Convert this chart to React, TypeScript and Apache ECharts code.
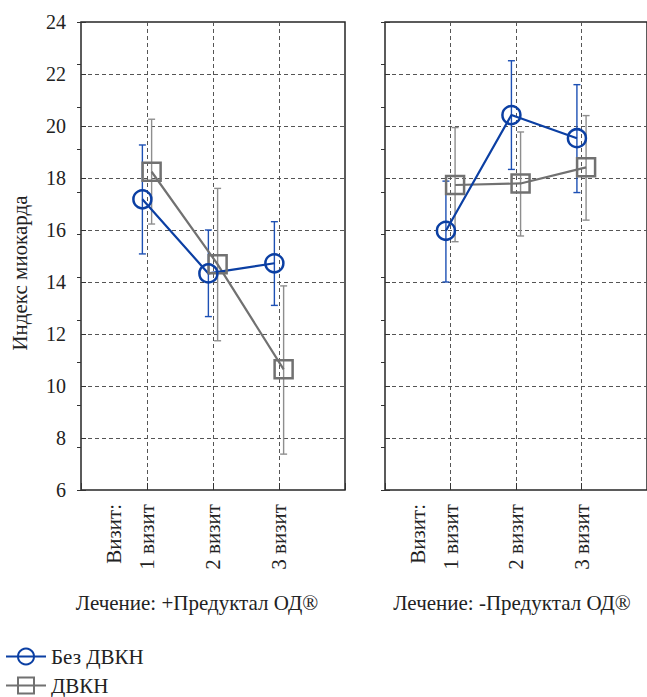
import React, { useEffect, useRef } from "react";
import * as echarts from "echarts";

const visitLabels = ["1 визит", "2 визит", "3 визит"];
const visitLead = "Визит:";
const seriesNames = ["Без ДВКН", "ДВКН"];
const panelTitles = ["Лечение: +Предуктал ОД®", "Лечение: -Предуктал ОД®"];
const yTitle = "Индекс миокарда";
const yMin = 6;
const yMax = 24;
const yStep = 2;

// Left panel: +Предуктал ОД
const leftBlueMean = [17.18, 14.33, 14.72];
const leftBlueLow = [15.08, 12.67, 13.1];
const leftBlueHigh = [19.27, 16.0, 16.32];
const leftGrayMean = [18.24, 14.68, 10.64];
const leftGrayLow = [16.23, 11.74, 7.38];
const leftGrayHigh = [20.26, 17.6, 13.85];

// Right panel: -Предуктал ОД
const rightBlueMean = [15.97, 20.42, 19.53];
const rightBlueLow = [14.0, 18.33, 17.44];
const rightBlueHigh = [17.88, 22.51, 21.59];
const rightGrayMean = [17.73, 17.79, 18.41];
const rightGrayLow = [15.55, 15.77, 16.38];
const rightGrayHigh = [19.94, 19.77, 20.4];

const BLUE = "#0b3fa3";
const BLUE_ERR = "#1d50b4";
const GRAY = "#717171";
const GRAY_ERR = "#8e8e8e";
const FONT = "Liberation Serif";
const TEXT = "#222";

const panels = [
  {
    blue: { mean: leftBlueMean, low: leftBlueLow, high: leftBlueHigh },
    gray: { mean: leftGrayMean, low: leftGrayLow, high: leftGrayHigh },
  },
  {
    blue: { mean: rightBlueMean, low: rightBlueLow, high: rightBlueHigh },
    gray: { mean: rightGrayMean, low: rightGrayLow, high: rightGrayHigh },
  },
];

const OFFSET = 0.07;

function errSeries(p: number, d: any, off: number, color: string) {
  return {
    type: "custom",
    name: "err" + p + color,
    xAxisIndex: p * 2,
    yAxisIndex: p * 2,
    silent: true,
    z: 2,
    data: d.low.map((l: number, i: number) => [i + 1 + off, l, d.high[i]]),
    encode: { x: 0, y: [1, 2] },
    renderItem: (params: any, api: any) => {
      const x = api.value(0);
      const lo = api.value(1);
      const hi = api.value(2);
      const a = api.coord([x, hi]);
      const b = api.coord([x, lo]);
      const w = 3.5;
      const st = { stroke: color, lineWidth: 1.4 };
      return {
        type: "group",
        children: [
          { type: "line", shape: { x1: a[0], y1: a[1], x2: b[0], y2: b[1] }, style: st },
          { type: "line", shape: { x1: a[0] - w, y1: a[1], x2: a[0] + w, y2: a[1] }, style: st },
          { type: "line", shape: { x1: b[0] - w, y1: b[1], x2: b[0] + w, y2: b[1] }, style: st },
        ],
      };
    },
  };
}

function lineSeries(p: number, name: string, d: any, off: number, color: string, symbol: string) {
  return {
    type: "line",
    name,
    xAxisIndex: p * 2,
    yAxisIndex: p * 2,
    z: 3,
    data: d.mean.map((m: number, i: number) => [i + 1 + off, m]),
    symbol,
    symbolSize: 18,
    itemStyle: { color: "transparent", borderColor: color, borderWidth: 2.5 },
    lineStyle: { color, width: 2.2 },
  };
}

export default function App() {
  const ref = useRef<HTMLDivElement>(null);
  useEffect(() => {
    document.body.style.margin = "0";
    const chart = echarts.init(ref.current!, undefined, { renderer: "svg" });
    const gridLefts = [81, 385];
    const grids = gridLefts.map((l) => ({
      left: l,
      top: 22,
      width: 264,
      height: 468,
      show: true,
      borderColor: "#262626",
      borderWidth: 1.5,
      backgroundColor: "transparent",
    }));
    const xAxis: any[] = [];
    const yAxis: any[] = [];
    for (let p = 0; p < 2; p++) {
      xAxis.push({
        type: "value",
        gridIndex: p,
        min: 0,
        max: 4,
        interval: 1,
        position: "bottom",
        axisLine: { show: false },
        axisTick: { show: true, inside: true, length: 7, lineStyle: { color: "#333", width: 1 } },
        splitLine: {
          show: true,
          showMinLine: false,
          showMaxLine: false,
          lineStyle: { color: "#555", type: [4, 3], width: 1 },
        },
        axisLabel: {
          rotate: 90,
          margin: 14,
          fontFamily: FONT,
          fontSize: 21,
          color: TEXT,
          formatter: (v: number) => {
            const i = Math.round(v) - 1;
            return i >= 0 && i < visitLabels.length ? visitLabels[i] : "";
          },
        },
      });
      xAxis.push({
        type: "value",
        gridIndex: p,
        min: 0,
        max: 4,
        interval: 0.5,
        position: "bottom",
        axisLine: { show: false },
        axisTick: { show: false },
        splitLine: { show: false },
        axisLabel: {
          rotate: 90,
          margin: 14,
          fontFamily: FONT,
          fontSize: 21,
          color: TEXT,
          formatter: (v: number) => (Math.abs(v - 0.5) < 1e-6 ? visitLead : ""),
        },
      });
      yAxis.push({
        type: "value",
        gridIndex: p,
        min: yMin,
        max: yMax,
        interval: yStep,
        position: "left",
        axisLine: { show: false },
        axisTick: { show: true, inside: true, length: 5, lineStyle: { color: "#333" } },
        splitLine: {
          show: true,
          showMinLine: false,
          showMaxLine: false,
          lineStyle: { color: "#555", type: [4, 3], width: 1 },
        },
        axisLabel: {
          show: p === 0,
          margin: 15,
          fontFamily: FONT,
          fontSize: 20,
          color: TEXT,
        },
      });
      yAxis.push({
        type: "value",
        gridIndex: p,
        min: 0,
        max: 11,
        interval: 1,
        position: "right",
        axisLine: { show: false },
        axisTick: { show: true, inside: true, length: 4, lineStyle: { color: "#333" } },
        splitLine: { show: false },
        axisLabel: { show: false },
      });
    }
    const series: any[] = [];
    panels.forEach((pd, p) => {
      series.push(errSeries(p, pd.gray, OFFSET, GRAY_ERR));
      series.push(errSeries(p, pd.blue, -OFFSET, BLUE_ERR));
      series.push(lineSeries(p, seriesNames[1], pd.gray, OFFSET, GRAY, "rect"));
      series.push(lineSeries(p, seriesNames[0], pd.blue, -OFFSET, BLUE, "circle"));
    });
    const legendBase = {
      orient: "vertical",
      left: 5,
      padding: 0,
      itemWidth: 40,
      itemHeight: 20,
      textStyle: { fontFamily: FONT, fontSize: 21, color: TEXT },
    };
    chart.setOption({
      animation: false,
      backgroundColor: "#fff",
      grid: grids,
      xAxis,
      yAxis,
      series,
      legend: [
        { ...legendBase, data: [seriesNames[0]], top: 646 },
        { ...legendBase, data: [seriesNames[1]], top: 675 },
      ],
      graphic: [
        {
          type: "text",
          x: 20,
          y: 273,
          rotation: Math.PI / 2,
          style: {
            text: yTitle,
            fontFamily: FONT,
            fontSize: 21,
            fill: TEXT,
            align: "center",
            verticalAlign: "middle",
          },
        },
        ...panelTitles.map((t, i) => ({
          type: "text",
          x: [197, 512][i],
          y: 603,
          style: {
            text: t,
            fontFamily: FONT,
            fontSize: 21,
            fill: TEXT,
            align: "center",
            verticalAlign: "middle",
          },
        })),
      ],
    });
    return () => chart.dispose();
  }, []);
  return <div ref={ref} style={{ width: 647, height: 697 }} />;
}
